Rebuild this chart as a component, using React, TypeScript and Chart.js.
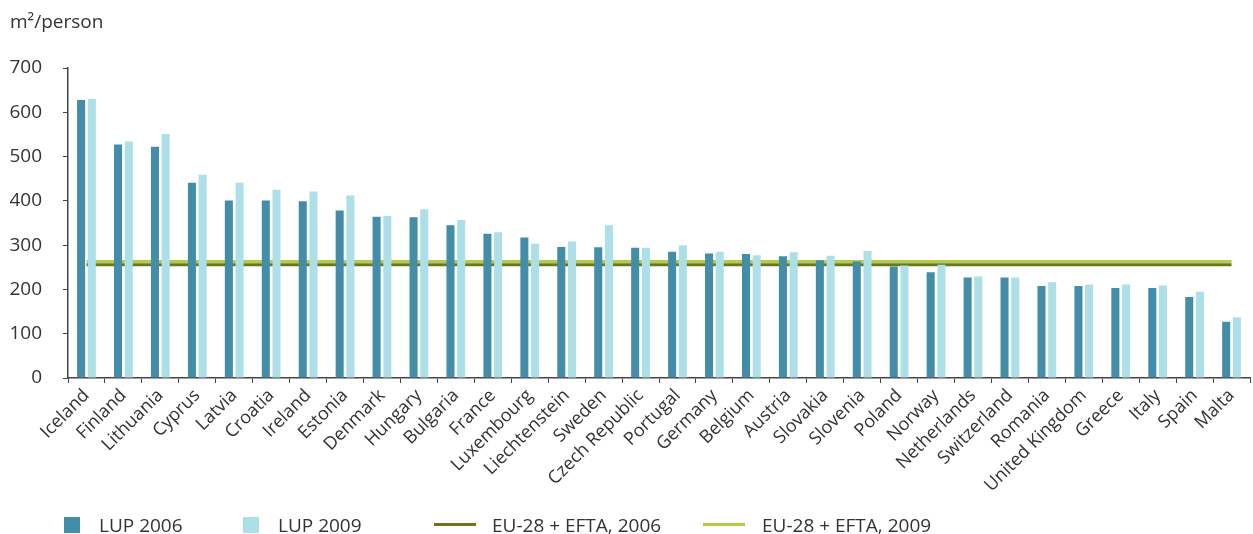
import React, { useEffect, useRef } from "react";
import { Chart, registerables } from "chart.js";

Chart.register(...registerables);

const categories = [
  "Iceland", "Finland", "Lithuania", "Cyprus", "Latvia", "Croatia", "Ireland", "Estonia",
  "Denmark", "Hungary", "Bulgaria", "France", "Luxembourg", "Liechtenstein", "Sweden",
  "Czech Republic", "Portugal", "Germany", "Belgium", "Austria", "Slovakia", "Slovenia",
  "Poland", "Norway", "Netherlands", "Switzerland", "Romania", "United Kingdom", "Greece",
  "Italy", "Spain", "Malta",
];

const lup2006 = [
  628, 527, 522, 441, 401, 401, 399, 378, 364, 363, 345, 326, 317, 296, 295, 294,
  285, 281, 280, 275, 266, 263, 252, 239, 227, 227, 208, 208, 203, 203, 183, 127,
];

const lup2009 = [
  630, 534, 551, 459, 441, 425, 421, 412, 366, 381, 357, 329, 303, 308, 345, 294,
  300, 285, 277, 284, 276, 287, 254, 256, 229, 227, 216, 211, 211, 209, 195, 137,
];

const euEfta2006 = 256;
const euEfta2009 = 263;

const yTicks = [0, 100, 200, 300, 400, 500, 600, 700];

const FONT = "'Open Sans', 'Noto Sans', sans-serif";
const TEXT = "#333333";
const DARK = "#448da8";
const LIGHT = "#acdfe8";
const LINE06 = "#67781f";
const LINE09 = "#b7cc46";

export default function App() {
  const ref = useRef<HTMLCanvasElement | null>(null);

  useEffect(() => {
    document.body.style.margin = "0";
    const ctx = ref.current!.getContext("2d")!;
    const chart = new Chart(ctx, {
      type: "bar",
      data: {
        labels: categories,
        datasets: [
          {
            type: "line",
            label: "EU-28 + EFTA, 2009",
            data: categories.map(() => euEfta2009),
            borderColor: LINE09,
            borderWidth: 3,
            pointRadius: 0,
            order: 3,
          } as any,
          {
            type: "line",
            label: "EU-28 + EFTA, 2006",
            data: categories.map(() => euEfta2006),
            borderColor: LINE06,
            borderWidth: 3,
            pointRadius: 0,
            order: 2,
          } as any,
          {
            label: "LUP 2006",
            data: lup2006,
            backgroundColor: DARK,
            categoryPercentage: 0.58,
            barPercentage: 0.75,
            order: 1,
          },
          {
            label: "LUP 2009",
            data: lup2009,
            backgroundColor: LIGHT,
            categoryPercentage: 0.58,
            barPercentage: 0.75,
            order: 1,
          },
        ],
      },
      options: {
        animation: false,
        responsive: false,
        maintainAspectRatio: false,
        layout: { padding: { left: 10, right: 3, top: 0, bottom: 36 } },
        plugins: {
          legend: { display: false },
          tooltip: { enabled: false },
          title: {
            display: true,
            text: "m\u00B2/person",
            align: "start",
            color: TEXT,
            font: { family: FONT, size: 19, weight: "normal" as any, lineHeight: 1.2 },
            padding: { top: 11, bottom: 34.2 },
          },
        },
        scales: {
          x: {
            grid: {
              display: true,
              drawOnChartArea: false,
              drawTicks: true,
              tickLength: 5,
              color: "#444444",
              offset: true,
            },
            border: { display: true, color: "#444444", width: 1.5 },
            ticks: {
              color: TEXT,
              font: { family: FONT, size: 18 },
              minRotation: 45,
              maxRotation: 45,
              autoSkip: false,
              padding: 2,
            },
            afterFit: (s: any) => {
              s.height = 120;
            },
          },
          y: {
            min: 0,
            max: 700,
            afterBuildTicks: (s: any) => {
              s.ticks = yTicks.map((v) => ({ value: v }));
            },
            grid: {
              display: true,
              drawOnChartArea: false,
              drawTicks: true,
              tickLength: 5,
              color: "#444444",
            },
            border: { display: true, color: "#444444", width: 1.5 },
            ticks: {
              color: TEXT,
              font: { family: FONT, size: 19 },
              padding: 21,
            },
            afterFit: (s: any) => {
              s.width = 58;
            },
          },
        },
      },
    });
    return () => chart.destroy();
  }, []);

  const textStyle: React.CSSProperties = {
    position: "absolute",
    top: 513,
    height: 24,
    lineHeight: "24px",
    fontFamily: FONT,
    fontSize: 19,
    color: TEXT,
    whiteSpace: "nowrap",
  };

  return (
    <div style={{ position: "absolute", left: 0, top: 0, width: 1253, height: 534, background: "#fff" }}>
      <canvas ref={ref} width={1253} height={534} style={{ position: "absolute", left: 0, top: 0 }} />
      <div style={{ position: "absolute", left: 64, top: 517, width: 16, height: 16, background: DARK }} />
      <div style={{ ...textStyle, left: 99 }}>LUP 2006</div>
      <div style={{ position: "absolute", left: 243, top: 517, width: 16, height: 16, background: LIGHT }} />
      <div style={{ ...textStyle, left: 278 }}>LUP 2009</div>
      <div style={{ position: "absolute", left: 434, top: 523, width: 42, height: 3, background: LINE06 }} />
      <div style={{ ...textStyle, left: 492 }}>EU-28 + EFTA, 2006</div>
      <div style={{ position: "absolute", left: 703, top: 523, width: 42, height: 3, background: LINE09 }} />
      <div style={{ ...textStyle, left: 762 }}>EU-28 + EFTA, 2009</div>
    </div>
  );
}
